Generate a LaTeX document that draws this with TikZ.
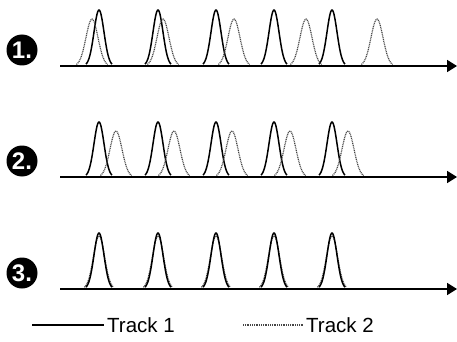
\documentclass[tikz,border=0pt]{standalone}
\usepackage{fontspec}
\setmainfont{Liberation Sans}
\usepackage{tikz}
\usetikzlibrary{arrows.meta, positioning}
\definecolor{mydark}{RGB}{0,0,0}
\definecolor{mygray}{RGB}{70,70,70}
\tikzset{
  axisline/.style={line width=1.8pt, color=mydark, -{Triangle[length=10pt, width=12pt]}},
  solidpk/.style={line width=1.5pt, color=mydark},
  dotpk/.style={line width=1.2pt, color=mygray, dash pattern=on 1pt off 0.8pt},
  numcirc/.style={circle, fill=mydark, minimum size=31pt, inner sep=0pt,
    text=white, font=\fontsize{24}{24}\selectfont\bfseries},
  legtext/.style={font=\fontsize{20.5}{21}\selectfont, inner sep=3pt}
}
% peak: centre, baseline, height, sigma, style
\newcommand{\peak}[5]{%
  \draw[#5] plot[domain=-2.6*#4:2.6*#4, samples=41, smooth]
    ({#1+\x}, {#2-#3*exp(-(\x*\x)/(2*#4*#4))});}

\begin{document}
\begin{tikzpicture}[x=1pt, y=-1pt]
  \useasboundingbox (0,0) rectangle (457,342);

  % Row 1: tracks drift apart
  \node[numcirc] (n1) at (22,50) {1.};
  \coordinate (a1s) at (60,66);
  \coordinate (a1e) at (457,66);
  \foreach \c in {99,158,216,274,332} {\peak{\c}{66}{56}{5}{solidpk}}
  \foreach \c in {92,163,234,306,377} {\peak{\c}{66}{47}{6}{dotpk}}
  \draw[axisline] (a1s) -- (a1e);

  % Row 2: constant offset
  \node[numcirc] (n2) at (22,161) {2.};
  \coordinate (a2s) at (60,177);
  \coordinate (a2e) at (457,177);
  \foreach \c in {99,158,216,274,332} {\peak{\c}{177}{55}{5}{solidpk}}
  \foreach \c in {116,174,232,290,348} {\peak{\c}{177}{46}{6}{dotpk}}
  \draw[axisline] (a2s) -- (a2e);

  % Row 3: aligned
  \node[numcirc] (n3) at (22,273) {3.};
  \coordinate (a3s) at (60,289);
  \coordinate (a3e) at (457,289);
  \foreach \c in {99,158,216,274,332} {\peak{\c}{289}{53}{5.6}{dotpk}}
  \foreach \c in {99,158,216,274,332} {\peak{\c}{289}{56}{5}{solidpk}}
  \draw[axisline] (a3s) -- (a3e);

  % Legend
  \coordinate (l1) at (32,325);
  \node[legtext, anchor=west] (t1) at (104,325) {Track 1};
  \draw[solidpk] (l1) -- (t1.west);
  \coordinate (l2) at (243,325);
  \node[legtext, anchor=west] (t2) at (303,325) {Track 2};
  \draw[dotpk] (l2) -- (t2.west);
\end{tikzpicture}
\end{document}
